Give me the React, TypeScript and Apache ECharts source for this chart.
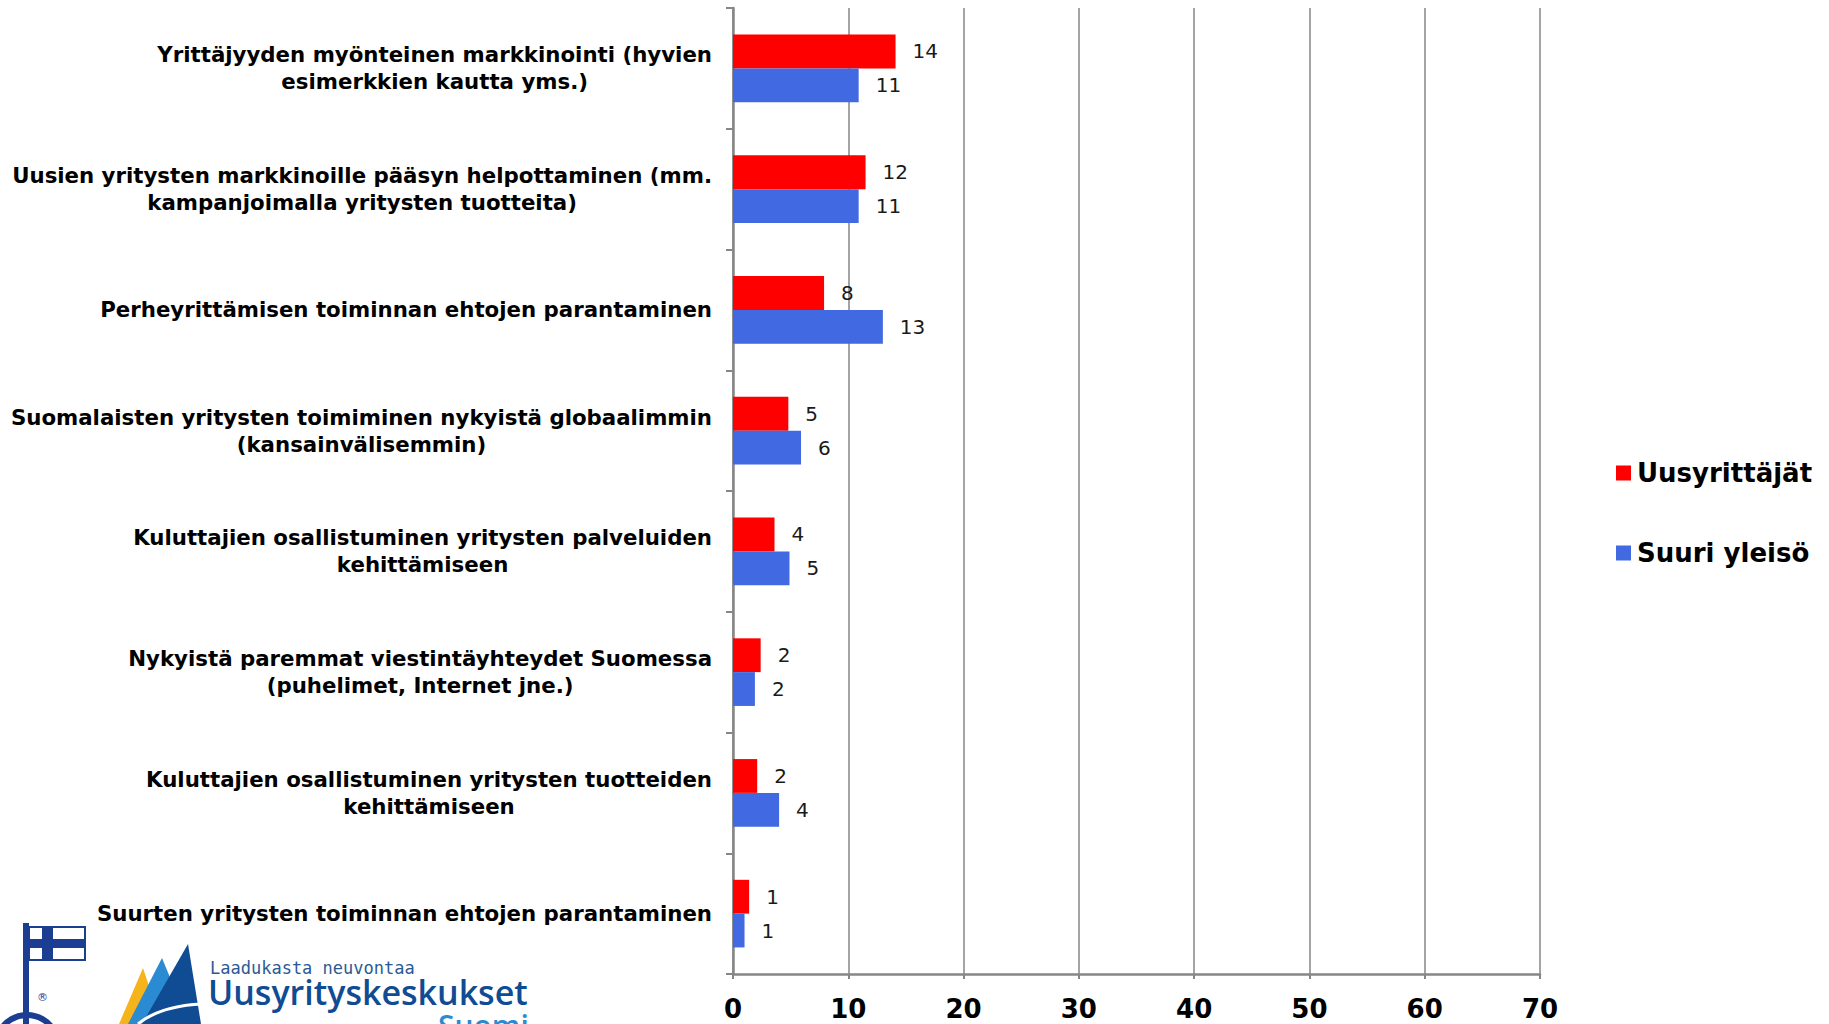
import React, { useEffect, useRef } from "react";
import * as echarts from "echarts";

const categories = [
  "Yrittäjyyden myönteinen markkinointi (hyvien\nesimerkkien kautta yms.)",
  "Uusien yritysten markkinoille pääsyn helpottaminen (mm.\nkampanjoimalla yritysten tuotteita)",
  "Perheyrittämisen toiminnan ehtojen parantaminen",
  "Suomalaisten yritysten toimiminen nykyistä globaalimmin\n(kansainvälisemmin)",
  "Kuluttajien osallistuminen yritysten palveluiden\nkehittämiseen",
  "Nykyistä paremmat viestintäyhteydet Suomessa\n(puhelimet, Internet jne.)",
  "Kuluttajien osallistuminen yritysten tuotteiden\nkehittämiseen",
  "Suurten yritysten toiminnan ehtojen parantaminen",
];

const uusyrittajat = [14.1, 11.5, 7.9, 4.8, 3.6, 2.4, 2.1, 1.4];
const suuriYleiso = [10.9, 10.9, 13.0, 5.9, 4.9, 1.9, 4.0, 1.0];

const xTicks = [0, 10, 20, 30, 40, 50, 60, 70];

const seriesNames = ["Uusyrittäjät", "Suuri yleisö"];
const seriesColors = ["#FF0000", "#4169E1"];

const GRID = "#868686";
const FONT = "DejaVu Sans";
const LOGO_DARK = "#1b3d92";
const LOGO_BLUE = "#0f4c94";
const LOGO_LIGHT = "#2a8bd2";

export default function App() {
  const ref = useRef<HTMLDivElement>(null);

  useEffect(() => {
    if (!ref.current) return;
    const chart = echarts.init(ref.current, undefined, { renderer: "svg" });

    const dataLabel = {
      show: true,
      position: "right",
      distance: 17,
      color: "#1a1a1a",
      fontFamily: FONT,
      fontSize: 20,
      formatter: (p: any) => String(Math.round(p.value)),
    };

    const option: any = {
      animation: false,
      backgroundColor: "#ffffff",
      grid: {
        left: 733,
        right: 289,
        top: 8,
        bottom: 50,
        containLabel: false,
        outerBoundsMode: "none",
      },
      legend: {
        orient: "vertical",
        left: 1611,
        top: 455,
        itemWidth: 15,
        itemHeight: 15,
        itemGap: 54,
        icon: "rect",
        data: seriesNames,
        textStyle: {
          fontFamily: FONT,
          fontWeight: "bold",
          fontSize: 26,
          color: "#000000",
          padding: [0, 0, 0, 1],
        },
      },
      xAxis: {
        type: "value",
        min: xTicks[0],
        max: xTicks[xTicks.length - 1],
        interval: 10,
        axisLine: { show: true, lineStyle: { color: GRID, width: 2.5 } },
        axisTick: { show: true, length: 5, lineStyle: { color: GRID, width: 2 } },
        splitLine: { show: true, lineStyle: { color: GRID, width: 1.5 } },
        axisLabel: {
          margin: 22,
          fontFamily: FONT,
          fontWeight: "bold",
          fontSize: 26,
          color: "#000000",
        },
      },
      yAxis: {
        type: "category",
        inverse: true,
        data: categories,
        axisLine: { show: true, lineStyle: { color: GRID, width: 2.5 } },
        axisTick: { show: true, length: 7, lineStyle: { color: GRID, width: 2 } },
        splitLine: { show: false },
        axisLabel: {
          margin: 21,
          align: "right",
          formatter: (v: string) =>
            v
              .split("\n")
              .map((l) => `{c|${l}}`)
              .join("\n"),
          rich: {
            c: {
              align: "center",
              fontFamily: FONT,
              fontWeight: "bold",
              fontSize: 21.3,
              lineHeight: 27,
              color: "#000000",
            },
          },
        },
      },
      series: [
        {
          name: seriesNames[0],
          type: "bar",
          data: uusyrittajat,
          barGap: "0%",
          barCategoryGap: "44%",
          itemStyle: { color: seriesColors[0] },
          label: dataLabel,
        },
        {
          name: seriesNames[1],
          type: "bar",
          data: suuriYleiso,
          barGap: "0%",
          barCategoryGap: "44%",
          itemStyle: { color: seriesColors[1] },
          label: dataLabel,
        },
      ],
      graphic: [
        // Avainlippu logo
        { type: "rect", shape: { x: 23, y: 923, width: 6, height: 101 }, style: { fill: LOGO_DARK } },
        { type: "rect", shape: { x: 29, y: 927, width: 56, height: 33 }, style: { fill: "#ffffff", stroke: LOGO_DARK, lineWidth: 2 } },
        { type: "rect", shape: { x: 42, y: 927, width: 11, height: 33 }, style: { fill: LOGO_DARK } },
        { type: "rect", shape: { x: 29, y: 939, width: 56, height: 9 }, style: { fill: LOGO_DARK } },
        { type: "circle", shape: { cx: 27, cy: 1046, r: 31 }, style: { fill: "none", stroke: LOGO_DARK, lineWidth: 6 } },
        { type: "text", x: 37, y: 992, style: { text: "®", fontSize: 11, fill: LOGO_DARK, fontFamily: FONT } },
        // Uusyrityskeskukset logo
        { type: "polygon", shape: { points: [[119, 1024], [143, 968], [152, 995], [131, 1024]] }, style: { fill: "#f5b41c" } },
        { type: "polygon", shape: { points: [[128, 1024], [162, 958], [176, 992], [146, 1024]] }, style: { fill: LOGO_LIGHT } },
        { type: "polygon", shape: { points: [[142, 1024], [188, 944], [201, 1024]] }, style: { fill: LOGO_BLUE } },
        { type: "bezierCurve", shape: { x1: 138, y1: 1024, cpx1: 160, cpy1: 1006, x2: 202, y2: 1004 }, style: { stroke: "#ffffff", lineWidth: 3, fill: "none" } },
        { type: "text", x: 210, y: 959, style: { text: "Laadukasta neuvontaa", fontSize: 17, lineHeight: 17, fill: "#2a5a96", fontFamily: "DejaVu Sans Mono" } },
        { type: "text", x: 208, y: 975, style: { text: "Uusyrityskeskukset", fontSize: 34, fontWeight: 600, fill: LOGO_BLUE, fontFamily: "Open Sans", lineHeight: 34 } },
        { type: "text", x: 438, y: 1010, style: { text: "Suomi", fontSize: 30, fontWeight: 600, fill: LOGO_LIGHT, fontFamily: "Open Sans", lineHeight: 30 } },
      ],
    };

    chart.setOption(option);
    return () => chart.dispose();
  }, []);

  return (
    <div
      ref={ref}
      style={{ position: "fixed", left: 0, top: 0, width: 1829, height: 1024, background: "#ffffff" }}
    />
  );
}
